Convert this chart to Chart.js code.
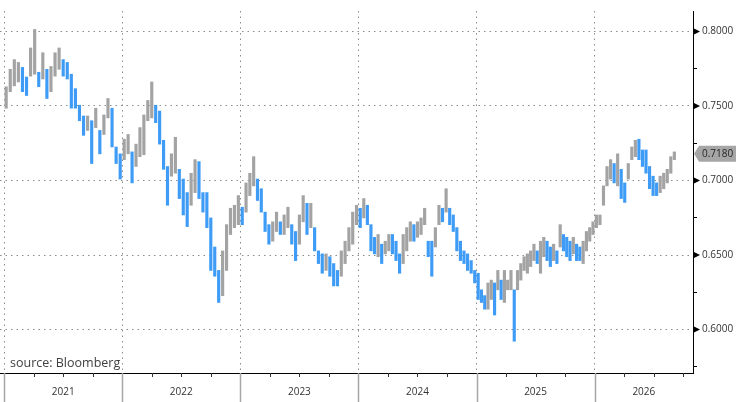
<!DOCTYPE html>
<html>
<head>
<meta charset="utf-8">
<script src="https://cdn.jsdelivr.net/npm/chart.js"></script>
<style>
  body { margin: 0; background: #fff; }
  #wrap { width: 736px; height: 402px; position: relative; }
</style>
</head>
<body>
<div id="wrap"><canvas id="mycanvas"></canvas></div>
<script>
// weekly-ish high/low ranges, one list per calendar year
var years = [2021, 2022, 2023, 2024, 2025, 2026];
var lastDate = 2026.69;   // last bar (about early Sept 2026)
var lastClose = 0.7180;

var lows2021  = [0.7485,0.7596,0.7635,0.7661,0.7596,0.7570,0.7700,0.7713,0.7629,0.7681,0.7550,0.7596,0.7700,0.7746,0.7700,0.7681,0.7485,0.7485,0.7401,0.7303,0.7336,0.7114,0.7355,0.7179,0.7309,0.7420,0.7225,0.7114,0.7010];
var highs2021 = [0.7629,0.7746,0.7811,0.7792,0.7759,0.7694,0.7889,0.8013,0.7726,0.7857,0.7746,0.7765,0.7857,0.7889,0.7811,0.7792,0.7713,0.7616,0.7505,0.7433,0.7433,0.7401,0.7485,0.7336,0.7440,0.7550,0.7485,0.7225,0.7179];

var lows2022  = [0.7140,0.7179,0.6984,0.7094,0.7160,0.7173,0.7401,0.7420,0.7388,0.7244,0.7075,0.6834,0.7029,0.7049,0.6879,0.6769,0.6691,0.6834,0.6919,0.6879,0.6788,0.6684,0.6397,0.6358,0.6182,0.6228,0.6397,0.6638,0.6684,0.6704];
var highs2022 = [0.7277,0.7309,0.7192,0.7244,0.7355,0.7440,0.7537,0.7661,0.7505,0.7466,0.7270,0.7094,0.7179,0.7290,0.7075,0.7010,0.6919,0.7049,0.7140,0.7127,0.6919,0.6919,0.6749,0.6554,0.6397,0.6528,0.6704,0.6814,0.6834,0.6899];

var lows2023  = [0.6704,0.6788,0.6899,0.6964,0.6866,0.6788,0.6658,0.6573,0.6593,0.6658,0.6638,0.6638,0.6684,0.6573,0.6463,0.6573,0.6723,0.6638,0.6684,0.6528,0.6443,0.6378,0.6397,0.6358,0.6293,0.6293,0.6358,0.6443,0.6528,0.6573,0.6704];
var highs2023 = [0.6821,0.6984,0.7049,0.7160,0.7010,0.6945,0.6788,0.6704,0.6723,0.6788,0.6723,0.6769,0.6821,0.6704,0.6658,0.6769,0.6899,0.6847,0.6847,0.6684,0.6528,0.6508,0.6508,0.6489,0.6443,0.6397,0.6528,0.6593,0.6684,0.6788,0.6834];

var lows2024  = [0.6684,0.6749,0.6704,0.6528,0.6508,0.6489,0.6443,0.6508,0.6528,0.6508,0.6463,0.6378,0.6443,0.6528,0.6593,0.6593,0.6619,0.6638,0.6704,0.6489,0.6358,0.6554,0.6704,0.6723,0.6788,0.6704,0.6658,0.6528,0.6463,0.6443,0.6397,0.6378,0.6313];
var highs2024 = [0.6814,0.6879,0.6834,0.6704,0.6619,0.6638,0.6573,0.6593,0.6638,0.6638,0.6593,0.6508,0.6638,0.6684,0.6723,0.6704,0.6723,0.6749,0.6814,0.6593,0.6593,0.6684,0.6834,0.6814,0.6945,0.6814,0.6769,0.6684,0.6593,0.6528,0.6508,0.6463,0.6397];

var lows2025  = [0.6202,0.6182,0.6137,0.6137,0.6202,0.6098,0.6267,0.6202,0.6182,0.6267,0.6267,0.5922,0.6267,0.6332,0.6397,0.6378,0.6423,0.6463,0.6443,0.6378,0.6489,0.6463,0.6423,0.6463,0.6443,0.6554,0.6528,0.6489,0.6463,0.6508,0.6463,0.6463,0.6443,0.6528,0.6593,0.6638];
var highs2025 = [0.6378,0.6267,0.6228,0.6313,0.6332,0.6313,0.6397,0.6332,0.6397,0.6332,0.6397,0.6267,0.6397,0.6443,0.6489,0.6508,0.6528,0.6573,0.6528,0.6593,0.6619,0.6593,0.6554,0.6573,0.6528,0.6704,0.6638,0.6619,0.6593,0.6619,0.6573,0.6554,0.6593,0.6658,0.6684,0.6723];

var lows2026  = [0.6684,0.6704,0.6834,0.6964,0.7010,0.6984,0.6964,0.6879,0.6853,0.7010,0.7140,0.7160,0.7140,0.7094,0.7049,0.6945,0.6899,0.6899,0.6919,0.6945,0.6984,0.7049,0.7140];
var highs2026 = [0.6769,0.6769,0.6964,0.7094,0.7140,0.7114,0.7179,0.7075,0.6984,0.7114,0.7225,0.7270,0.7277,0.7205,0.7205,0.7094,0.7029,0.6984,0.7029,0.7049,0.7075,0.7160,0.7192];

var lowsByYear = [lows2021, lows2022, lows2023, lows2024, lows2025, lows2026];
var highsByYear = [highs2021, highs2022, highs2023, highs2024, highs2025, highs2026];

var majorTicks = [0.6000, 0.6500, 0.7000, 0.7500, 0.8000];

var xMin = 2020.965, xMax = 2026.833;

// spread each year's bars evenly over the part of the year they cover
var points = [];
years.forEach(function(yr, k) {
  var lo = lowsByYear[k], hi = highsByYear[k];
  var span = Math.min(yr + 1, lastDate) - yr;
  for (var i = 0; i < lo.length; i++) {
    points.push({ x: yr + (i + 0.5) * span / lo.length, y: [lo[i], hi[i]] });
  }
});

var colors = points.map(function(p, i) {
  if (i === 0) return '#a3a3a3';
  var prev = points[i - 1].y, mid = (p.y[0] + p.y[1]) / 2;
  return mid < (prev[0] + prev[1]) / 2 ? '#3f9cf6' : '#a3a3a3';
});

var FONT = '"Open Sans", "Noto Sans", sans-serif';
Chart.defaults.font.family = FONT;
Chart.defaults.font.size = 10;
Chart.defaults.color = '#333';

var extras = {
  id: 'extras',
  afterDraw: function(chart) {
    var ctx = chart.ctx, a = chart.chartArea;
    var x = chart.scales.x, y = chart.scales.y;
    ctx.save();

    // black markers on the major price ticks
    ctx.fillStyle = '#000';
    majorTicks.forEach(function(v) {
      var py = y.getPixelForValue(v);
      ctx.beginPath();
      ctx.moveTo(a.right, py - 3.5);
      ctx.lineTo(a.right + 7, py);
      ctx.lineTo(a.right, py + 3.5);
      ctx.closePath();
      ctx.fill();
    });

    // year separators, quarter ticks and year labels under the axis
    years.forEach(function(yr) {
      var px = Math.round(x.getPixelForValue(yr)) + 0.5;
      ctx.strokeStyle = '#a6a6a6';
      ctx.lineWidth = 1.5;
      ctx.beginPath();
      ctx.moveTo(px, a.bottom);
      ctx.lineTo(px, chart.height);
      ctx.stroke();

      ctx.strokeStyle = '#333';
      ctx.lineWidth = 1;
      [0.25, 0.5, 0.75].forEach(function(q) {
        if (yr + q >= xMax) return;
        var qx = Math.round(x.getPixelForValue(yr + q)) + 0.5;
        ctx.beginPath();
        ctx.moveTo(qx, a.bottom);
        ctx.lineTo(qx, a.bottom + 4);
        ctx.stroke();
      });

      var x0 = x.getPixelForValue(Math.max(yr, xMin));
      var x1 = x.getPixelForValue(Math.min(yr + 1, xMax));
      ctx.fillStyle = '#333';
      ctx.font = '10px ' + FONT;
      ctx.textAlign = 'center';
      ctx.textBaseline = 'middle';
      ctx.fillText(String(yr), (x0 + x1) / 2, a.bottom + 19);
    });

    // source note
    ctx.fillStyle = '#404040';
    ctx.font = '12.5px ' + FONT;
    ctx.textAlign = 'left';
    ctx.textBaseline = 'middle';
    ctx.fillText('source: Bloomberg', 10, a.bottom - 10);

    // last price tag
    var ty = y.getPixelForValue(lastClose);
    ctx.fillStyle = '#a6a6a6';
    ctx.beginPath();
    ctx.moveTo(a.right + 1, ty);
    ctx.lineTo(a.right + 6, ty - 8);
    ctx.lineTo(chart.width, ty - 8);
    ctx.lineTo(chart.width, ty + 8);
    ctx.lineTo(a.right + 6, ty + 8);
    ctx.closePath();
    ctx.fill();
    ctx.fillStyle = '#262626';
    ctx.font = '10px ' + FONT;
    ctx.fillText(lastClose.toFixed(4), a.right + 9, ty);

    ctx.restore();
  }
};

var chart = new Chart(document.getElementById('mycanvas'), {
  type: 'bar',
  data: {
    datasets: [{
      data: points,
      backgroundColor: colors,
      borderWidth: 0,
      barThickness: 2.5
    }]
  },
  options: {
    responsive: true,
    maintainAspectRatio: false,
    animation: false,
    layout: { padding: 0 },
    plugins: { legend: { display: false }, tooltip: { enabled: false } },
    scales: {
      x: {
        type: 'linear',
        offset: false,
        min: xMin,
        max: xMax,
        afterBuildTicks: function(scale) {
          scale.ticks = years.map(function(v) { return { value: v }; });
        },
        afterFit: function(scale) { scale.height = 29; },
        ticks: { display: false },
        grid: { color: '#8c8c8c', lineWidth: 1, drawTicks: false, offset: false },
        border: { color: '#000', width: 1, dash: [1.5, 4] }
      },
      y: {
        position: 'right',
        min: 0.5709,
        max: 0.8137,
        afterFit: function(scale) { scale.width = 43; },
        ticks: {
          stepSize: 0.025,
          includeBounds: false,
          padding: 5,
          color: '#333',
          callback: function(v) {
            var r = v / 0.05;
            return Math.abs(r - Math.round(r)) < 1e-6 ? v.toFixed(4) : '';
          }
        },
        grid: {
          color: function(c) {
            if (!c.tick) return 'transparent';
            var r = c.tick.value / 0.05;
            return Math.abs(r - Math.round(r)) < 1e-6 ? '#8c8c8c' : 'transparent';
          },
          tickColor: '#000',
          tickLength: 4,
          lineWidth: 1
        },
        border: { color: '#000', width: 1, dash: [1.5, 4] }
      }
    }
  },
  plugins: [extras]
});
</script>
</body>
</html>
